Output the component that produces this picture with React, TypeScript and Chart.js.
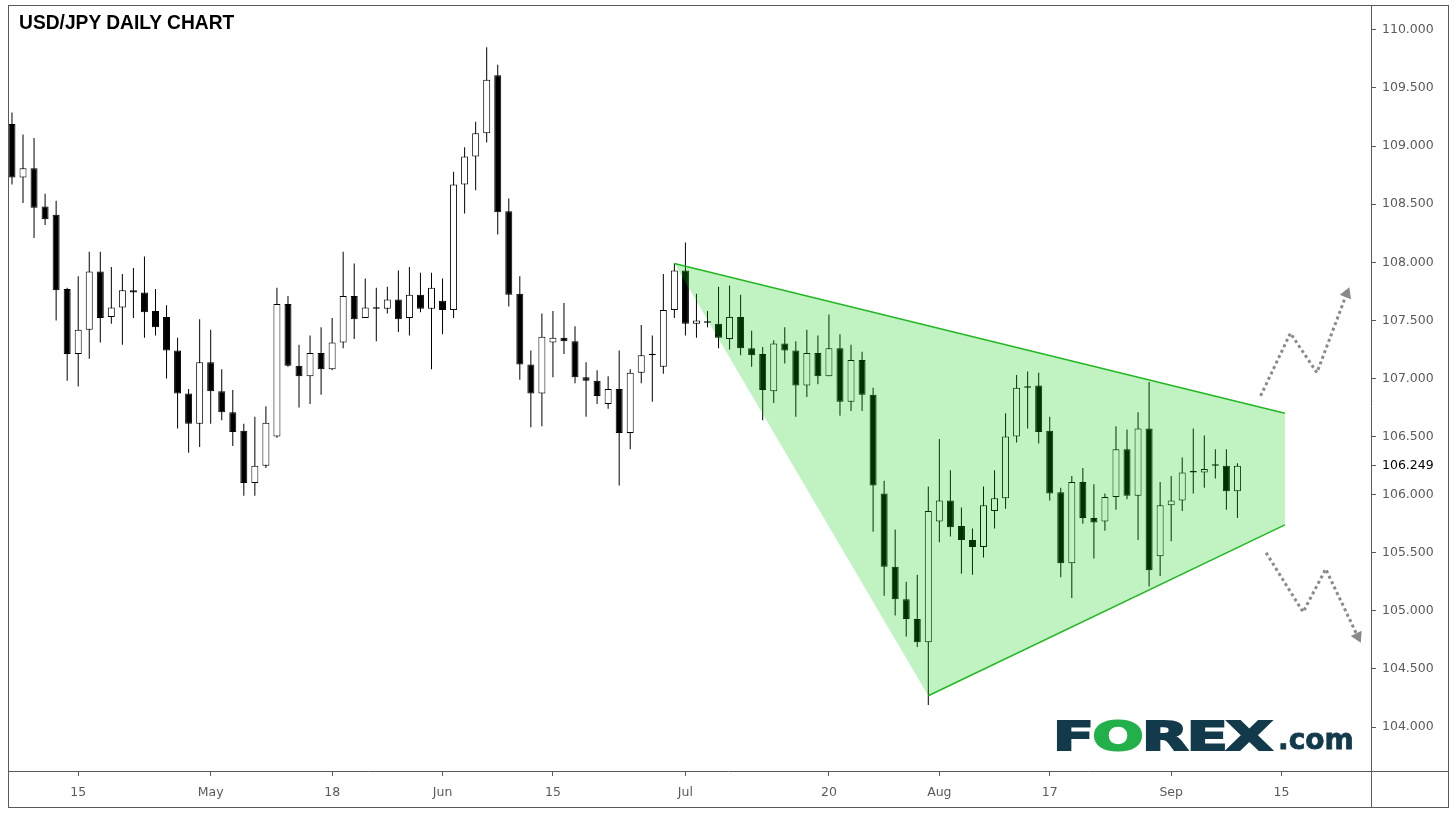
import React, { useEffect, useRef } from 'react';
import { Chart, registerables } from 'chart.js';

Chart.register(...registerables);

// Daily candles, USD/JPY, 7 Apr 2020 (index 0) .. 9 Sep 2020 (index 111)
const opens = [
  109.19, 108.73, 108.81, 108.48, 108.41, 107.77, 107.21, 107.42, 107.92, 107.53,
  107.61, 107.76, 107.74, 107.58, 107.53, 107.24, 106.87, 106.61, 107.14, 106.89,
  106.71, 106.55, 106.10, 106.25, 106.50, 107.64, 107.11, 107.02, 107.22, 107.08,
  107.31, 107.71, 107.52, 107.61, 107.60, 107.68, 107.52, 107.72, 107.60, 107.67,
  107.59, 108.67, 108.91, 109.11, 109.61, 108.44, 107.73, 107.12, 106.87, 107.31,
  107.35, 107.32, 107.01, 106.98, 106.78, 106.91, 106.53, 107.05, 107.21, 107.10,
  107.59, 107.93, 107.47, 107.49, 107.47, 107.34, 107.53, 107.26, 107.21, 106.89,
  107.30, 107.24, 106.94, 107.22, 107.02, 107.26, 106.80, 107.16, 106.86, 106.01,
  105.38, 105.10, 104.93, 104.73, 105.77, 105.95, 105.73, 105.61, 105.55, 105.86,
  105.97, 106.50, 106.92, 106.94, 106.55, 106.02, 105.41, 106.11, 105.80, 105.77,
  105.98, 106.39, 105.99, 106.57, 105.47, 105.91, 105.95, 106.19, 106.19, 106.25,
  106.25, 106.03,
];
const highs = [
  109.29, 109.10, 109.07, 108.59, 108.53, 107.78, 107.88, 108.09, 108.09, 107.96,
  107.90, 107.95, 108.05, 107.77, 107.63, 107.35, 106.91, 107.51, 107.42, 107.08,
  106.90, 106.61, 106.67, 106.76, 107.78, 107.71, 107.29, 107.37, 107.44, 107.52,
  108.09, 107.99, 107.86, 107.78, 107.79, 107.93, 107.96, 107.91, 107.91, 107.86,
  108.78, 108.99, 109.21, 109.85, 109.70, 108.55, 107.88, 107.24, 107.56, 107.58,
  107.65, 107.45, 107.14, 107.07, 107.02, 107.24, 107.08, 107.46, 107.37, 107.90,
  107.99, 108.17, 107.73, 107.58, 107.79, 107.80, 107.72, 107.41, 107.27, 107.33,
  107.44, 107.32, 107.42, 107.37, 107.55, 107.38, 107.29, 107.23, 106.92, 106.12,
  105.70, 105.25, 105.31, 106.07, 106.48, 106.21, 105.89, 105.71, 106.07, 106.21,
  106.70, 107.03, 107.06, 107.05, 106.67, 106.06, 106.16, 106.23, 106.09, 106.01,
  106.59, 106.56, 106.71, 106.97, 106.11, 106.16, 106.32, 106.57, 106.51, 106.39,
  106.39, 106.27,
];
const lows = [
  108.67, 108.51, 108.21, 108.32, 107.50, 106.98, 106.93, 107.17, 107.31, 107.47,
  107.29, 107.52, 107.35, 107.37, 107.00, 106.57, 106.36, 106.41, 106.61, 106.64,
  106.42, 105.99, 105.99, 106.23, 106.49, 107.10, 106.75, 106.78, 106.86, 107.07,
  107.26, 107.34, 107.52, 107.32, 107.56, 107.40, 107.37, 107.57, 107.08, 107.38,
  107.52, 108.42, 108.62, 109.03, 108.24, 107.62, 106.99, 106.58, 106.59, 107.01,
  107.21, 106.96, 106.67, 106.78, 106.74, 106.08, 106.39, 106.96, 106.80, 107.04,
  107.52, 107.37, 107.35, 107.44, 107.26, 107.25, 107.20, 107.10, 106.64, 106.79,
  107.13, 106.67, 106.84, 106.95, 107.02, 106.68, 106.72, 106.72, 105.68, 105.13,
  104.96, 104.78, 104.69, 104.19, 105.59, 105.64, 105.32, 105.31, 105.46, 105.71,
  105.88, 106.45, 106.57, 106.44, 105.95, 105.29, 105.11, 105.75, 105.45, 105.69,
  105.87, 105.96, 105.61, 105.21, 105.30, 105.60, 105.86, 106.01, 106.06, 106.14,
  105.87, 105.80,
];
const closes = [
  108.73, 108.81, 108.47, 108.37, 107.76, 107.21, 107.42, 107.92, 107.52, 107.61,
  107.76, 107.74, 107.57, 107.44, 107.24, 106.87, 106.61, 107.14, 106.89, 106.71,
  106.54, 106.10, 106.25, 106.62, 107.64, 107.11, 107.02, 107.22, 107.08, 107.31,
  107.71, 107.51, 107.61, 107.60, 107.68, 107.51, 107.72, 107.60, 107.78, 107.59,
  108.67, 108.91, 109.11, 109.57, 108.43, 107.72, 107.12, 106.87, 107.36, 107.35,
  107.32, 107.01, 106.98, 106.85, 106.91, 106.53, 107.05, 107.20, 107.20, 107.59,
  107.93, 107.47, 107.50, 107.48, 107.35, 107.53, 107.26, 107.20, 106.90, 107.30,
  107.24, 106.94, 107.22, 107.02, 107.26, 106.80, 107.16, 106.86, 106.08, 105.38,
  105.10, 104.93, 104.73, 105.86, 105.95, 105.72, 105.61, 105.55, 105.91, 105.97,
  106.50, 106.92, 106.93, 106.54, 106.01, 105.41, 106.11, 105.80, 105.76, 105.98,
  106.39, 105.99, 106.57, 105.35, 105.91, 105.95, 106.19, 106.20, 106.22, 106.26,
  106.03, 106.25,
];

// x-axis labels at trading-day indices
const tickIndex = [6, 18, 29, 39, 49, 61, 74, 84, 94, 105, 115];
const tickLabels = ['15', 'May', '18', 'Jun', '15', 'Jul', '20', 'Aug', '17', 'Sep', '15'];

// y-axis labels
const priceTicks = [104, 104.5, 105, 105.5, 106, 106.5, 107, 107.5, 108, 108.5, 109, 109.5, 110];
const lastPrice = 106.249;

// triangle pattern (index, price)
const triUpperX = [60, 115.3];
const triUpperY = [107.99, 106.7];
const triLowerX = [83, 115.3];
const triLowerY = [104.27, 105.74];

// dotted breakout arrows
const arrowUpX = [113.1, 115.8, 118.2, 120.9];
const arrowUpY = [106.85, 107.39, 107.05, 107.73];
const arrowDownX = [113.6, 116.95, 119.0, 121.9];
const arrowDownY = [105.5, 104.99, 105.36, 104.78];

const AXIS_COLOR = '#5a5a5a';
const X_FONT = { family: '"DejaVu Sans", Verdana, sans-serif', size: 12.5 };
const Y_FONT = { family: '"DejaVu Sans", Verdana, sans-serif', size: 12.5 };

const framePlugin = {
  id: 'frame',
  afterDraw(chart: any) {
    const { ctx, chartArea } = chart;
    ctx.save();
    ctx.strokeStyle = AXIS_COLOR;
    ctx.lineWidth = 1;
    ctx.strokeRect(8.5, 5.5, 1440, 802);
    ctx.beginPath();
    ctx.moveTo(8, Math.round(chartArea.bottom) + 0.5);
    ctx.lineTo(1449, Math.round(chartArea.bottom) + 0.5);
    ctx.moveTo(Math.round(chartArea.right) + 0.5, 5);
    ctx.lineTo(Math.round(chartArea.right) + 0.5, 808);
    ctx.stroke();
    ctx.restore();
  },
};

export default function App() {
  const canvasRef = useRef<HTMLCanvasElement | null>(null);

  useEffect(() => {
    const canvas = canvasRef.current;
    if (!canvas) return;

    const wickData = opens.map((_, i) => ({ x: i, y: [lows[i], highs[i]] }));
    const bodyData = opens.map((o, i) => ({ x: i, y: [o, closes[i]] }));
    const bodyColors = opens.map((o, i) => (closes[i] >= o ? '#ffffff' : '#000000'));

    const triPoly = [
      { x: triUpperX[0], y: triUpperY[0] },
      { x: triUpperX[1], y: triUpperY[1] },
      { x: triLowerX[1], y: triLowerY[1] },
      { x: triLowerX[0], y: triLowerY[0] },
    ];
    const upperLine = triUpperX.map((x, i) => ({ x, y: triUpperY[i] }));
    const lowerLine = triLowerX.map((x, i) => ({ x, y: triLowerY[i] }));
    const arrowUp = arrowUpX.map((x, i) => ({ x, y: arrowUpY[i] }));
    const arrowDown = arrowDownX.map((x, i) => ({ x, y: arrowDownY[i] }));

    const chart = new Chart(canvas, {
      type: 'bar',
      data: {
        datasets: [
          {
            type: 'bar',
            data: wickData as any,
            backgroundColor: '#000000',
            borderWidth: 0,
            maxBarThickness: 1,
            grouped: false,
            order: 5,
          } as any,
          {
            type: 'bar',
            data: bodyData as any,
            backgroundColor: bodyColors,
            borderColor: '#000000',
            borderWidth: 1,
            borderSkipped: false,
            maxBarThickness: 7,
            minBarLength: 1.5,
            grouped: false,
            order: 4,
          } as any,
          {
            type: 'line',
            data: triPoly as any,
            fill: 'shape',
            backgroundColor: 'rgba(0, 200, 0, 0.245)',
            borderColor: 'transparent',
            borderWidth: 0,
            pointRadius: 0,
            tension: 0,
            order: 3,
          } as any,
          {
            type: 'line',
            data: upperLine as any,
            borderColor: '#22b822',
            borderWidth: 1.5,
            pointRadius: 0,
            fill: false,
            order: 2,
          } as any,
          {
            type: 'line',
            data: lowerLine as any,
            borderColor: '#22b822',
            borderWidth: 1.5,
            pointRadius: 0,
            fill: false,
            order: 2,
          } as any,
          {
            type: 'line',
            data: arrowUp as any,
            borderColor: '#8a8a8a',
            borderWidth: 3,
            borderDash: [3, 3],
            pointRadius: [0, 0, 0, 7],
            pointStyle: 'triangle',
            pointRotation: 22,
            pointBackgroundColor: '#8a8a8a',
            pointBorderWidth: 0,
            fill: false,
            order: 1,
          } as any,
          {
            type: 'line',
            data: arrowDown as any,
            borderColor: '#8a8a8a',
            borderWidth: 3,
            borderDash: [3, 3],
            pointRadius: [0, 0, 0, 7],
            pointStyle: 'triangle',
            pointRotation: 154,
            pointBackgroundColor: '#8a8a8a',
            pointBorderWidth: 0,
            fill: false,
            order: 1,
          } as any,
        ],
      },
      options: {
        responsive: false,
        animation: false,
        events: [],
        layout: { padding: { left: 8, top: 5, right: 6, bottom: 7 } },
        plugins: {
          legend: { display: false },
          tooltip: { enabled: false },
          title: { display: false },
        },
        scales: {
          x: {
            type: 'linear',
            min: -0.36,
            max: 123.1,
            offset: false,
            afterBuildTicks: (s: any) => {
              s.ticks = tickIndex.map((v) => ({ value: v }));
            },
            afterFit: (s: any) => {
              s.height = 37;
              s.paddingLeft = 0;
              s.paddingRight = 0;
            },
            ticks: {
              autoSkip: false,
              maxRotation: 0,
              color: AXIS_COLOR,
              font: X_FONT,
              padding: 9,
              callback: (v: any) => {
                const k = tickIndex.indexOf(Number(v));
                return k >= 0 ? tickLabels[k] : '';
              },
            },
            grid: {
              display: true,
              offset: false,
              drawOnChartArea: false,
              drawTicks: true,
              tickLength: 5,
              color: AXIS_COLOR,
            },
            border: { display: false },
          },
          y: {
            type: 'linear',
            position: 'right',
            min: 103.622,
            max: 110.197,
            afterBuildTicks: (s: any) => {
              s.ticks = [...priceTicks, lastPrice].sort((a, b) => a - b).map((v) => ({ value: v }));
            },
            afterFit: (s: any) => {
              s.width = 78;
              s.paddingTop = 0;
              s.paddingBottom = 0;
            },
            ticks: {
              autoSkip: false,
              padding: 6,
              font: Y_FONT,
              color: (c: any) => (c.tick && c.tick.value === lastPrice ? '#000000' : AXIS_COLOR),
              callback: (v: any) => Number(v).toFixed(3),
            },
            grid: {
              display: true,
              drawOnChartArea: false,
              drawTicks: true,
              tickLength: 5,
              color: AXIS_COLOR,
            },
            border: { display: false },
          },
        },
      } as any,
      plugins: [framePlugin],
    });

    return () => chart.destroy();
  }, []);

  return (
    <div style={{ position: 'fixed', left: 0, top: 0, width: 1455, height: 815, background: '#ffffff' }}>
      <canvas ref={canvasRef} width={1455} height={815} style={{ display: 'block' }} />
      <div
        style={{
          position: 'absolute',
          left: 19,
          top: 12,
          font: 'bold 21px "Liberation Sans", Arial, sans-serif',
          lineHeight: '20px',
          color: '#000000',
          whiteSpace: 'nowrap',
          transform: 'scaleX(0.915)',
          transformOrigin: 'left top',
        }}
      >
        USD/JPY DAILY CHART
      </div>
      <div
        style={{
          position: 'absolute',
          left: 1053,
          top: 717,
          font: 'bold 38.5px "DejaVu Sans", sans-serif',
          lineHeight: '40px',
          color: '#123a4b',
          whiteSpace: 'nowrap',
          letterSpacing: '-1px',
          WebkitTextStroke: '2px #123a4b',
          transform: 'scaleX(1.56)',
          transformOrigin: 'left top',
        }}
      >
        F<span style={{ color: '#22b04b', WebkitTextStroke: '2px #22b04b' }}>O</span>REX
      </div>
      <div
        style={{
          position: 'absolute',
          left: 1278,
          top: 725,
          font: 'bold 28px "DejaVu Sans", sans-serif',
          lineHeight: '30px',
          color: '#123a4b',
          whiteSpace: 'nowrap',
          WebkitTextStroke: '0.8px #123a4b',
        }}
      >
        .com
      </div>
    </div>
  );
}
